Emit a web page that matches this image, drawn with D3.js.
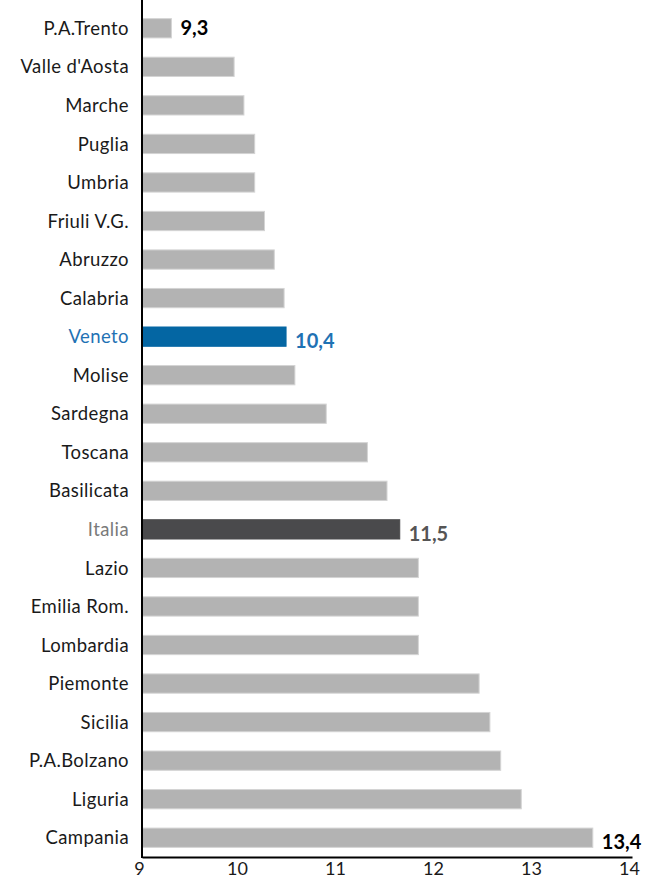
<!DOCTYPE html>
<html>
<head>
<meta charset="utf-8">
<script src="https://cdn.jsdelivr.net/npm/d3@7"></script>
<style>
  body { margin: 0; background: #fff; }
  text { font-family: Lato, "Open Sans", sans-serif; }
</style>
</head>
<body>
<svg id="chart" width="645" height="879"></svg>
<script>
const regions = ["P.A.Trento","Valle d'Aosta","Marche","Puglia","Umbria","Friuli V.G.","Abruzzo","Calabria","Veneto","Molise","Sardegna","Toscana","Basilicata","Italia","Lazio","Emilia Rom.","Lombardia","Piemonte","Sicilia","P.A.Bolzano","Liguria","Campania"];
const values = [9.30, 9.94, 10.04, 10.15, 10.15, 10.25, 10.35, 10.45, 10.47, 10.56, 10.88, 11.30, 11.50, 11.63, 11.82, 11.82, 11.82, 12.44, 12.55, 12.66, 12.87, 13.60];
const valueLabels = {"P.A.Trento": "9,3", "Veneto": "10,4", "Italia": "11,5", "Campania": "13,4"};
const xTicks = [9, 10, 11, 12, 13, 14];

const svg = d3.select("#chart");
const mLeft = 142, mRight = 632, mTop = 9, mBottom = 857;

const x = d3.scaleLinear().domain([9, 14]).range([mLeft, mRight]);
const y = d3.scaleBand().domain(regions).range([mTop, mBottom]).paddingInner(0.5).paddingOuter(0.25);

const fillFor = r => r === "Veneto" ? "#0466a3" : (r === "Italia" ? "#4a4a4c" : "#b3b3b3");
const strokeFor = r => r === "Veneto" ? "#0466a3" : (r === "Italia" ? "#4a4a4c" : "#d4d4d4");
const catColor = r => r === "Veneto" ? "#1f72b4" : (r === "Italia" ? "#7a7a7a" : "#1a1a1a");
const valColor = r => r === "Veneto" ? "#1f72b4" : (r === "Italia" ? "#555555" : "#000000");

const data = regions.map((r, i) => ({ r, v: values[i] }));

svg.append("g").selectAll("rect").data(data).join("rect")
  .attr("x", x(9))
  .attr("y", d => y(d.r))
  .attr("width", d => x(d.v) - x(9))
  .attr("height", y.bandwidth())
  .attr("fill", d => fillFor(d.r))
  .attr("stroke", d => strokeFor(d.r))
  .attr("stroke-width", 1);

// category labels
svg.append("g").selectAll("text").data(data).join("text")
  .attr("x", 129)
  .attr("y", d => y(d.r) + y.bandwidth() / 2)
  .attr("dy", "0.36em")
  .attr("text-anchor", "end")
  .attr("font-size", 18.5)
  .attr("letter-spacing", 0.4)
  .attr("fill", d => catColor(d.r))
  .text(d => d.r);

// value labels
const labeled = data.filter(d => valueLabels[d.r]);
svg.append("g").selectAll("text").data(labeled).join("text")
  .attr("x", d => x(d.v) + 9)
  .attr("y", d => y(d.r) + y.bandwidth() / 2 + (d.r === "P.A.Trento" ? 0 : 4))
  .attr("dy", "0.36em")
  .attr("font-size", 20)
  .attr("font-weight", "bold")
  .attr("fill", d => valColor(d.r))
  .text(d => valueLabels[d.r]);

// axes
const xAxis = d3.axisBottom(x).tickValues(xTicks).tickSize(0).tickPadding(5).tickFormat(d3.format("d"));
const gx = svg.append("g").attr("transform", `translate(0,${mBottom})`).call(xAxis);
gx.select(".domain").attr("stroke", "#000").attr("stroke-width", 2);
gx.selectAll("text").attr("font-size", 18).attr("fill", "#1a1a1a").attr("dx", -3)
  .style("font-family", "Lato, 'Open Sans', sans-serif");

svg.append("line")
  .attr("x1", mLeft).attr("x2", mLeft)
  .attr("y1", 0).attr("y2", mBottom + 1)
  .attr("stroke", "#000").attr("stroke-width", 2);
</script>
</body>
</html>
